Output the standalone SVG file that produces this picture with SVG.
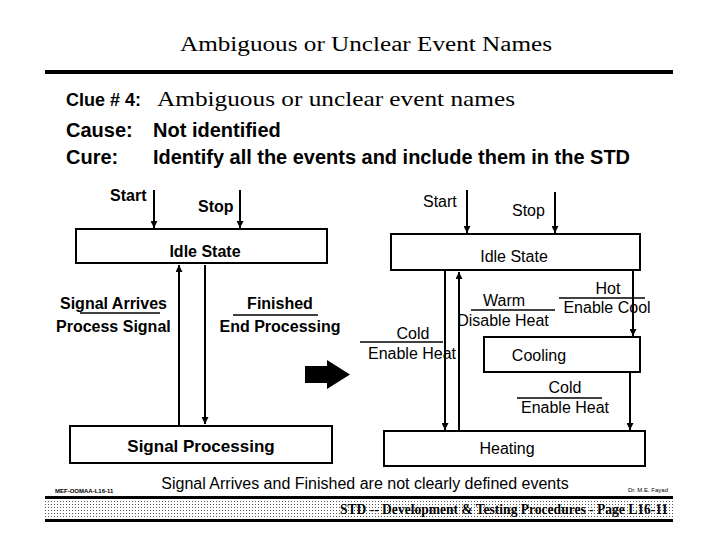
<svg xmlns="http://www.w3.org/2000/svg" width="720" height="540" viewBox="0 0 720 540">
<defs>
<marker id="ah" viewBox="0 0 10 10" refX="10" refY="5" markerWidth="3.5" markerHeight="3.5" orient="auto"><path d="M0,0L10,5L0,10z" fill="#000"/></marker>
<pattern id="dots" width="3" height="3" patternUnits="userSpaceOnUse"><rect width="3" height="3" fill="#fff"/><rect width="1" height="1" fill="#555"/></pattern>
</defs>
<style>
.s{font-family:"Liberation Sans",Arial,sans-serif;fill:#000}
.b{font-weight:bold}
.r{font-family:"Liberation Serif","Times New Roman",serif;fill:#000}
.box{fill:#fff;stroke:#000;stroke-width:2}
.c{stroke:#000;stroke-width:2;fill:none}
.u{stroke:#000;stroke-width:1.5}
</style>
<rect width="720" height="540" fill="#fff"/>
<text class="r" x="366" y="51" font-size="20" text-anchor="middle" textLength="372" lengthAdjust="spacingAndGlyphs">Ambiguous or Unclear Event Names</text>
<rect x="45" y="70" width="628" height="4" fill="#000"/>
<text class="s b" x="66" y="106" font-size="18">Clue # 4:</text>
<text class="r" x="157" y="106" font-size="22" textLength="358" lengthAdjust="spacingAndGlyphs">Ambiguous or unclear event names</text>
<text class="s b" x="66" y="137" font-size="20">Cause:</text>
<text class="s b" x="153" y="137" font-size="20">Not identified</text>
<text class="s b" x="66" y="164" font-size="20">Cure:</text>
<text class="s b" x="153" y="164" font-size="20" textLength="477" lengthAdjust="spacingAndGlyphs">Identify all the events and include them in the STD</text>

<g id="left-idle"><rect class="box" x="76" y="229" width="251" height="34"/><text class="s b" x="205" y="257" font-size="16" text-anchor="middle">Idle State</text></g>
<g id="left-signal"><rect class="box" x="70" y="426" width="262" height="37"/><text class="s b" x="201" y="452" font-size="17" text-anchor="middle">Signal Processing</text></g>
<g id="right-idle"><rect class="box" x="391" y="234" width="249" height="36"/><text class="s" x="514" y="262" font-size="16" text-anchor="middle">Idle State</text></g>
<g id="right-cooling"><rect class="box" x="484" y="337" width="156" height="35"/><text class="s" x="539" y="361" font-size="16" text-anchor="middle">Cooling</text></g>
<g id="right-heating"><rect class="box" x="384" y="431" width="261" height="35"/><text class="s" x="507" y="454" font-size="16" text-anchor="middle">Heating</text></g>

<g id="connectors">
<line class="c" x1="154" y1="190" x2="154" y2="228" marker-end="url(#ah)"/>
<line class="c" x1="240" y1="190" x2="240" y2="228" marker-end="url(#ah)"/>
<line class="c" x1="179" y1="425" x2="179" y2="265" marker-end="url(#ah)"/>
<line class="c" x1="205" y1="265" x2="205" y2="424" marker-end="url(#ah)"/>
<line class="c" x1="467" y1="190" x2="467" y2="233" marker-end="url(#ah)"/>
<line class="c" x1="555" y1="192" x2="555" y2="233" marker-end="url(#ah)"/>
<line class="c" x1="445" y1="271" x2="445" y2="430" stroke-width="2.5" marker-end="url(#ah)"/>
<line class="c" x1="459" y1="430" x2="459" y2="272" marker-end="url(#ah)"/>
<line class="c" x1="633" y1="271" x2="633" y2="336" marker-end="url(#ah)"/>
<line class="c" x1="630" y1="372" x2="630" y2="430" marker-end="url(#ah)"/>
</g>

<g id="labels">
<text class="s b" x="110" y="201" font-size="16">Start</text>
<text class="s b" x="198" y="212" font-size="16">Stop</text>
<text class="s b" x="60" y="309" font-size="16">Signal Arrives</text>
<line class="u" x1="80" y1="313" x2="160" y2="313"/>
<text class="s b" x="56" y="332" font-size="16">Process Signal</text>
<text class="s b" x="280" y="309" font-size="16" text-anchor="middle">Finished</text>
<line class="u" x1="233" y1="315" x2="318" y2="315"/>
<text class="s b" x="280" y="332" font-size="16" text-anchor="middle">End Processing</text>
<text class="s" x="423" y="207" font-size="16">Start</text>
<text class="s" x="512" y="216" font-size="16">Stop</text>
<text class="s" x="504" y="306" font-size="16" text-anchor="middle">Warm</text>
<line class="u" x1="471" y1="310" x2="555" y2="310"/>
<text class="s" x="503" y="326" font-size="16" text-anchor="middle">Disable Heat</text>
<text class="s" x="608" y="294" font-size="16" text-anchor="middle">Hot</text>
<line class="u" x1="559" y1="298" x2="645" y2="298"/>
<text class="s" x="607" y="313" font-size="16" text-anchor="middle">Enable Cool</text>
<text class="s" x="413" y="339" font-size="16" text-anchor="middle">Cold</text>
<line class="u" x1="360" y1="342" x2="443" y2="342"/>
<text class="s" x="412" y="359" font-size="16" text-anchor="middle">Enable Heat</text>
<text class="s" x="565" y="393" font-size="16" text-anchor="middle">Cold</text>
<line class="u" x1="517" y1="398" x2="602" y2="398"/>
<text class="s" x="565" y="413" font-size="16" text-anchor="middle">Enable Heat</text>
</g>
<path d="M305,366H327V360L350,374.5L327,389V383H305Z" fill="#000"/>

<text class="s b" x="55" y="493" font-size="6">MEF-OOMAA-L16-11</text>
<text class="s" x="365" y="489" font-size="16" text-anchor="middle">Signal Arrives and Finished are not clearly defined events</text>
<text class="s" x="668" y="492" font-size="6" text-anchor="end">Dr. M.E. Fayad</text>
<rect x="45" y="499" width="628" height="20" fill="url(#dots)"/>
<rect x="45" y="496" width="628" height="3" fill="#000"/>
<rect x="45" y="519" width="628" height="3" fill="#000"/>
<text class="r b" x="668" y="514" font-size="14" text-anchor="end" textLength="328" lengthAdjust="spacingAndGlyphs">STD -- Development &amp; Testing Procedures - Page L16-11</text>
</svg>
